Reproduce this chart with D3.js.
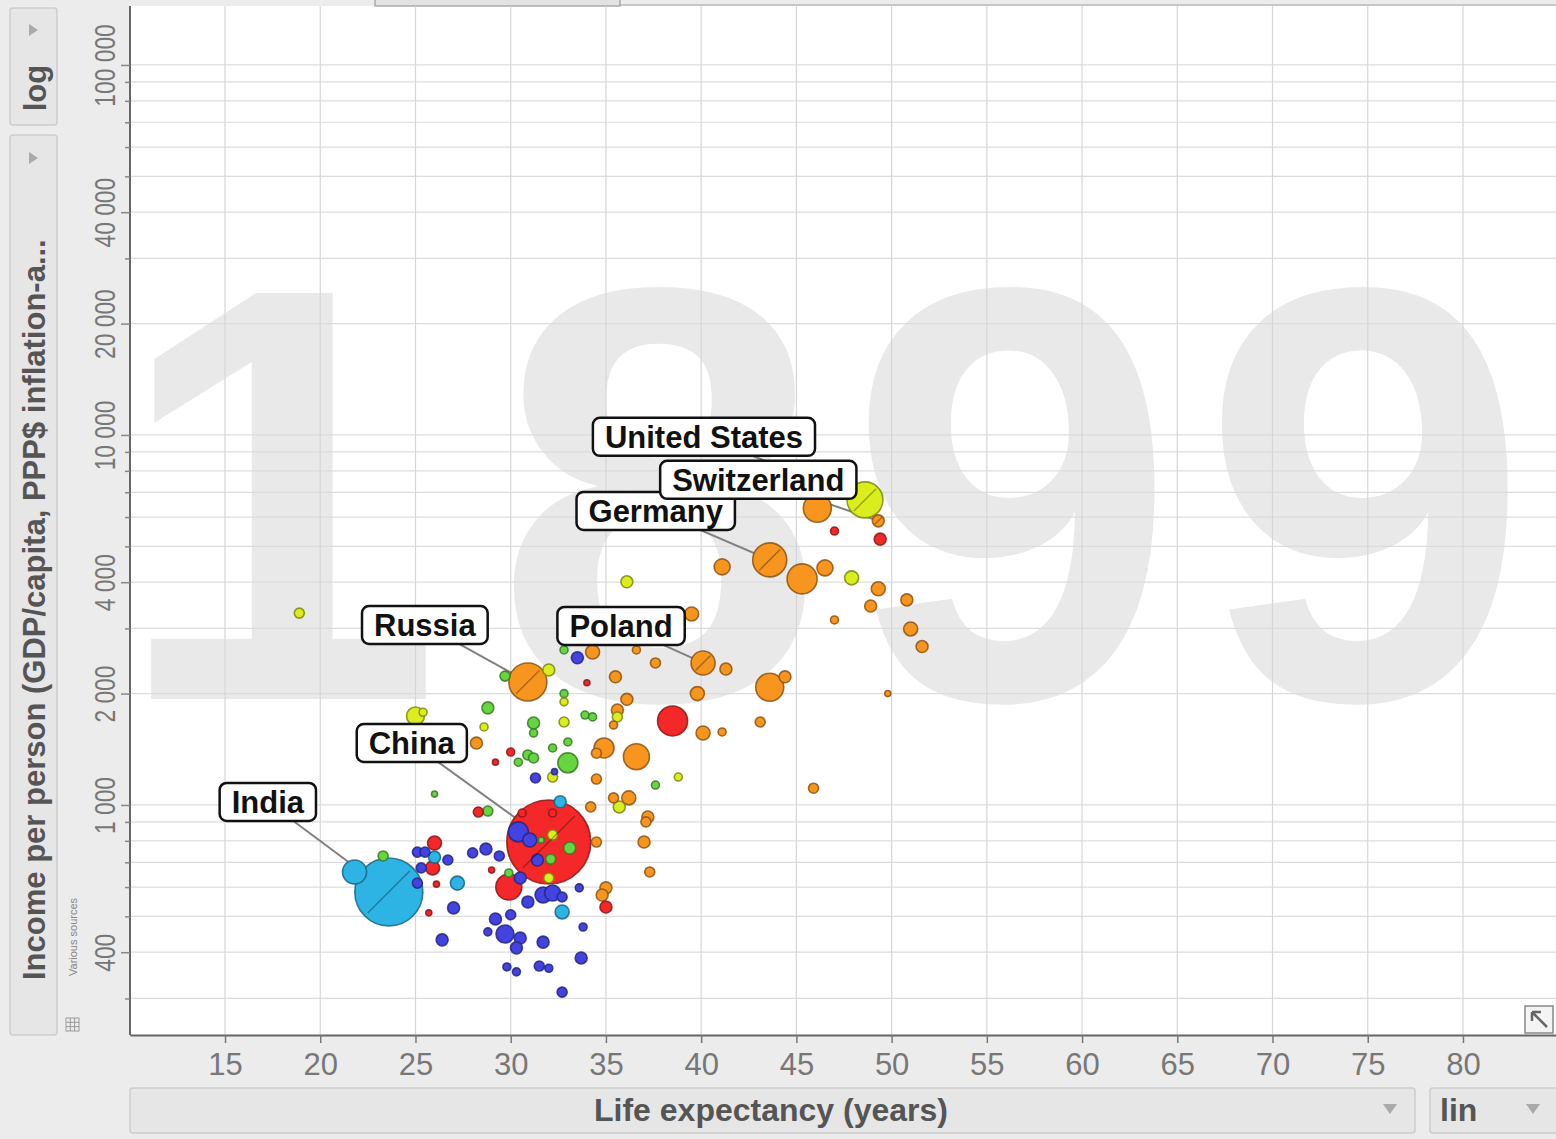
<!DOCTYPE html>
<html>
<head>
<meta charset="utf-8">
<script src="https://cdn.jsdelivr.net/npm/d3@7"></script>
<style>
  body { margin: 0; background: #ececec; }
  svg { display: block; font-family: "Liberation Sans", Arial, sans-serif; }
</style>
</head>
<body>
<script>

// ---- data ----
var year = "1899";
var xTicks = [15, 20, 25, 30, 35, 40, 45, 50, 55, 60, 65, 70, 75, 80];
var yTickLabels = [400, 1000, 2000, 4000, 10000, 20000, 40000, 100000];
var xTitle = "Life expectancy (years)";
var yTitle = "Income per person (GDP/capita, PPP$ inflation-a...";

// [life expectancy, income per person, population (millions), label]
var subSaharanAfrica = [
  [33.5, 2500, 7.4], [31.3, 1183, 5.2], [32.3, 1230, 1.9], [30.4, 846, 20.7],
  [31.0, 804, 10.1], [31.4, 710, 7.4], [30.5, 635, 7.4], [31.7, 571, 13.2],
  [32.2, 578, 13.2], [30.9, 547, 7.4], [32.7, 564, 5.2], [33.6, 597, 3.3],
  [33.8, 468, 3.3], [29.2, 492, 7.4], [30.0, 505, 5.2], [28.8, 454, 3.3],
  [29.7, 448, 16.7], [30.5, 437, 7.4], [30.3, 411, 7.4], [31.7, 426, 7.4],
  [33.7, 386, 7.4], [29.8, 365, 3.3], [30.3, 354, 3.3], [31.5, 367, 5.2],
  [32.0, 362, 3.3], [32.7, 312, 5.2], [26.4, 432, 7.4], [27.0, 527, 7.4],
  [25.1, 615, 5.2], [25.3, 676, 5.2], [26.7, 710, 5.2], [25.1, 746, 5.2],
  [25.5, 746, 5.2], [28.0, 742, 5.2], [28.7, 760, 7.4], [29.4, 728, 5.2]
];
var southAsia = [
  [23.6, 582, 239, "India"], [21.8, 659, 29.8], [26.0, 723, 7.4],
  [27.2, 615, 10.1], [32.6, 1020, 7.4], [32.7, 514, 10.1]
];
var middleEast = [
  [29.7, 2230, 5.2], [32.8, 2624, 3.3], [32.8, 2000, 3.3], [28.8, 1830, 7.4],
  [31.2, 1666, 7.4], [31.2, 1565, 3.3], [33.9, 1750, 3.3], [34.3, 1730, 3.3],
  [30.9, 1365, 5.2], [31.2, 1340, 5.2], [30.4, 1305, 3.3], [32.2, 1426, 3.3],
  [33.0, 1480, 3.3], [33.0, 1300, 20.7], [37.6, 1132, 3.3], [26.0, 1070, 1.9],
  [28.8, 963, 5.2], [33.1, 765, 7.4], [32.1, 714, 5.2], [23.3, 728, 5.2],
  [29.9, 655, 3.3], [31.6, 804, 1.9]
];
var america = [
  [48.6, 6677, 66.9, "United States"], [47.9, 4110, 10.1], [36.1, 4010, 7.4],
  [32.0, 2317, 7.4], [25.0, 1740, 16.7], [25.4, 1780, 3.3], [18.9, 3300, 5.2],
  [32.8, 1900, 3.3], [28.6, 1625, 3.3], [32.8, 1676, 5.2], [35.6, 1730, 5.2],
  [32.2, 1190, 5.2], [38.8, 1190, 3.3], [35.7, 988, 7.4], [32.2, 830, 5.2],
  [32.0, 635, 5.2]
];
var europe = [
  [46.1, 6340, 40.5], [49.3, 5860, 7.4, "Switzerland"], [43.6, 4596, 59.7, "Germany"],
  [45.3, 4083, 46.5], [46.5, 4372, 13.2], [41.1, 4400, 13.2], [49.3, 3840, 10.1],
  [50.8, 3583, 7.4], [48.9, 3450, 7.4], [51.0, 2990, 10.1], [51.6, 2680, 7.4],
  [39.5, 3283, 10.1], [40.1, 2420, 29.8, "Poland"], [41.3, 2330, 7.4],
  [43.6, 2080, 40.5], [44.4, 2220, 7.4], [39.8, 2000, 10.1], [43.1, 1676, 5.2],
  [40.1, 1565, 10.1], [41.1, 1575, 3.3], [45.9, 1110, 5.2], [49.8, 2000, 1.9],
  [47.0, 3163, 3.3], [30.9, 2150, 74.6, "Russia"], [34.3, 2590, 10.1],
  [36.6, 2624, 3.3], [37.6, 2420, 5.2], [35.5, 2220, 7.4], [36.1, 1930, 7.4],
  [35.6, 1806, 7.4], [35.4, 1645, 3.3], [34.9, 1426, 20.7], [36.6, 1350, 34.9],
  [34.5, 1380, 5.2], [34.5, 1175, 5.2], [28.2, 1470, 7.4], [36.2, 1045, 10.1],
  [35.4, 1045, 5.2], [34.2, 988, 5.2], [37.2, 928, 7.4], [37.1, 900, 5.2],
  [37.0, 794, 7.4], [34.5, 794, 5.2], [37.3, 659, 5.2], [35.0, 597, 7.4],
  [34.8, 571, 7.4]
];
var eastAsia = [
  [32.0, 794, 364, "China"], [38.5, 1687, 46.5], [47.0, 5500, 3.3], [49.4, 5230, 7.4],
  [29.9, 600, 34.9], [28.3, 957, 5.2], [26.0, 789, 10.1], [25.9, 676, 10.1],
  [35.0, 530, 7.4], [34.0, 2140, 1.9], [30.0, 1390, 3.3], [29.2, 1305, 1.9],
  [25.7, 511, 1.9], [26.1, 611, 1.9], [29.0, 667, 1.9], [32.2, 951, 3.3],
  [30.6, 951, 3.3]
];

// ---- layout / style ----
var W = 1556, H = 1139;
var plot = { left: 130, top: 6, right: 1556, bottom: 1035 };
var regionColor = {
  africa: "#4343e2", southAsia: "#2db4e4", middleEast: "#66d640",
  america: "#d9ee1c", europe: "#f7951f", eastAsia: "#f42828"
};
// label box centre, offset from its bubble
var labelOffset = {
  "United States": [-161, -63], "Switzerland": [-120, -41], "Germany": [-114, -49],
  "Russia": [-103, -57], "Poland": [-82, -37], "China": [-137, -99], "India": [-121, -90]
};

var svg = d3.select("body").append("svg")
  .attr("width", W).attr("height", H);

var xScale = d3.scaleLinear().domain([10, 85]).range([129.8, 1558.2]);
var yScale = d3.scaleLog().domain([240, 150000]).range([1034.3, -0.2]);
var rScale = d3.scaleSqrt().domain([0, 100]).range([0, 22]);

// plot background
svg.append("rect")
  .attr("x", plot.left).attr("y", plot.top)
  .attr("width", plot.right - plot.left).attr("height", plot.bottom - plot.top)
  .attr("fill", "#fff");

// top tab
svg.append("line").attr("x1", 620).attr("x2", W).attr("y1", 5).attr("y2", 5)
  .attr("stroke", "#bbb").attr("stroke-width", 1.5);
svg.append("rect").attr("x", 375).attr("y", -6).attr("width", 245).attr("height", 12)
  .attr("fill", "#e2e2e2").attr("stroke", "#aaa").attr("stroke-width", 1.5);

// big year in the background
var yr = svg.append("text")
  .attr("x", 142).attr("y", 699)
  .attr("font-size", 590).attr("font-weight", "bold")
  .attr("letter-spacing", 25)
  .attr("fill", "#e9e9e9");
yr.append("tspan").attr("dx", -28).text(year.slice(0, 1));
yr.append("tspan").attr("dx", 28).text(year.slice(1));

// grid
var yGrid = [];
[100, 1000, 10000, 100000].forEach(function(p) {
  for (var m = 1; m <= 9; m++) {
    var v = m * p;
    if (v >= 300 && v <= 100000) yGrid.push(v);
  }
});
var grid = svg.append("g");
grid.selectAll("line.h").data(yGrid).enter().append("line")
  .attr("x1", plot.left).attr("x2", plot.right)
  .attr("y1", function(d) { return yScale(d); })
  .attr("y2", function(d) { return yScale(d); })
  .attr("stroke", "#dcdcdc").attr("stroke-width", 1.2);
grid.selectAll("line.v").data(xTicks).enter().append("line")
  .attr("y1", plot.top).attr("y2", plot.bottom)
  .attr("x1", function(d) { return xScale(d); })
  .attr("x2", function(d) { return xScale(d); })
  .attr("stroke", "#d6d6d6").attr("stroke-width", 1.2);

// axes
var fmt = function(d) { return d3.format(",")(d).replace(/,/g, " "); };

var gx = svg.append("g")
  .attr("transform", "translate(0," + plot.bottom + ")")
  .call(d3.axisBottom(xScale).tickValues(xTicks).tickSize(8).tickSizeOuter(0));
gx.select(".domain").attr("stroke", "#666").attr("stroke-width", 2);
gx.selectAll(".tick line").attr("stroke", "#777").attr("stroke-width", 1.5);
gx.selectAll(".tick text")
  .attr("y", 40).attr("dy", null)
  .attr("font-size", 31).attr("font-family", "Liberation Sans, Arial, sans-serif")
  .attr("fill", "#777");

var gy = svg.append("g")
  .attr("transform", "translate(" + plot.left + ",0)")
  .call(d3.axisLeft(yScale).tickValues(yGrid).tickSizeOuter(0)
    .tickSize(5)
    .tickFormat(function(d) { return yTickLabels.indexOf(d) >= 0 ? fmt(d) : ""; }));
gy.select(".domain").attr("stroke", "#666").attr("stroke-width", 2)
  .attr("d", "M0," + plot.top + "V" + plot.bottom);
gy.selectAll(".tick line").attr("stroke", "#888").attr("stroke-width", 1.5)
  .attr("x2", function(d) { return yTickLabels.indexOf(d) >= 0 ? -9 : -5; });
gy.selectAll(".tick text")
  .attr("x", null).attr("dy", null)
  .attr("text-anchor", "middle")
  .attr("transform", "translate(-15,0) rotate(-90) scale(0.76,1)")
  .attr("font-size", 30).attr("font-family", "Liberation Sans, Arial, sans-serif")
  .attr("fill", "#777");

// ---- bubbles ----
var groups = [
  ["africa", subSaharanAfrica], ["southAsia", southAsia], ["middleEast", middleEast],
  ["america", america], ["europe", europe], ["eastAsia", eastAsia]
];
var bubbles = [];
groups.forEach(function(g) {
  g[1].forEach(function(d) {
    bubbles.push({ region: g[0], life: d[0], income: d[1], pop: d[2], name: d[3] || null });
  });
});
bubbles.sort(function(a, b) { return b.pop - a.pop; });
var labelled = bubbles.filter(function(d) { return d.name; });

// leader lines (under the bubbles)
svg.append("g").selectAll("line").data(labelled).enter().append("line")
  .attr("x1", function(d) { return xScale(d.life) + labelOffset[d.name][0]; })
  .attr("y1", function(d) { return yScale(d.income) + labelOffset[d.name][1]; })
  .attr("x2", function(d) { return xScale(d.life); })
  .attr("y2", function(d) { return yScale(d.income); })
  .attr("stroke", "#808080").attr("stroke-width", 2);

var circle = svg.append("g").selectAll("circle")
  .data(bubbles)
  .enter()
  .append("circle")
    .attr("cx", function(d) { return xScale(d.life); })
    .attr("cy", function(d) { return yScale(d.income); })
    .attr("r", function(d) { return rScale(d.pop); })
    .attr("fill", function(d) { return regionColor[d.region]; })
    .attr("stroke", function(d) { return d3.color(regionColor[d.region]).darker(1.6); })
    .attr("stroke-opacity", 0.85)
    .attr("stroke-width", 1.6);

// selection mark inside labelled bubbles
svg.append("g").selectAll("line").data(labelled).enter().append("line")
  .attr("x1", function(d) { return xScale(d.life) + rScale(d.pop) * 0.62; })
  .attr("y1", function(d) { return yScale(d.income) - rScale(d.pop) * 0.62; })
  .attr("x2", function(d) { return xScale(d.life) - rScale(d.pop) * 0.62; })
  .attr("y2", function(d) { return yScale(d.income) + rScale(d.pop) * 0.62; })
  .attr("stroke", "#000").attr("stroke-opacity", 0.3).attr("stroke-width", 1.5);

// label boxes
var lab = svg.append("g").selectAll("g").data(labelled).enter().append("g")
  .attr("transform", function(d) {
    return "translate(" + (xScale(d.life) + labelOffset[d.name][0]) + "," +
      (yScale(d.income) + labelOffset[d.name][1]) + ")";
  });
// draw in the reference's stacking order
lab.sort(function(a, b) {
  var order = ["India", "China", "Russia", "Poland", "United States", "Germany", "Switzerland"];
  return order.indexOf(a.name) - order.indexOf(b.name);
});
lab.each(function(d) {
  var g = d3.select(this);
  var rect = g.append("rect");
  var t = g.append("text")
    .attr("text-anchor", "middle").attr("y", 11)
    .attr("font-size", 31).attr("font-weight", "bold").attr("fill", "#111")
    .text(d.name);
  var w = t.node().getComputedTextLength() + 24;
  rect.attr("x", -w / 2).attr("y", -19).attr("width", w).attr("height", 38)
    .attr("rx", 7).attr("fill", "#fff").attr("stroke", "#111").attr("stroke-width", 2.5);
});

// ---- controls around the chart ----
// y title box
svg.append("rect").attr("x", 10).attr("y", 135).attr("width", 47).attr("height", 900)
  .attr("rx", 3).attr("fill", "#e6e6e6").attr("stroke", "#cdcdcd").attr("stroke-width", 1.5);
svg.append("rect").attr("x", 10).attr("y", 8).attr("width", 47).attr("height", 117)
  .attr("rx", 3).attr("fill", "#e6e6e6").attr("stroke", "#cdcdcd").attr("stroke-width", 1.5);
svg.append("text")
  .attr("transform", "translate(45,980) rotate(-90)")
  .attr("font-size", 31).attr("font-weight", "bold").attr("fill", "#555")
  .text(yTitle);
svg.append("text")
  .attr("transform", "translate(46,88) rotate(-90)")
  .attr("text-anchor", "middle")
  .attr("font-size", 31).attr("font-weight", "bold").attr("fill", "#555")
  .text("log");
[30, 158].forEach(function(y) {
  svg.append("path").attr("d", "M29," + (y - 6) + "L38," + y + "L29," + (y + 6) + "Z")
    .attr("fill", "#aaa");
});
svg.append("text")
  .attr("transform", "translate(77,976) rotate(-90)")
  .attr("font-size", 11).attr("fill", "#888")
  .text("Various sources");
var icon = svg.append("g").attr("transform", "translate(66,1018)");
icon.append("rect").attr("width", 13).attr("height", 13).attr("fill", "none").attr("stroke", "#999");
[4.3, 8.6].forEach(function(v) {
  icon.append("line").attr("x1", v).attr("x2", v).attr("y1", 0).attr("y2", 13).attr("stroke", "#999");
  icon.append("line").attr("y1", v).attr("y2", v).attr("x1", 0).attr("x2", 13).attr("stroke", "#999");
});

// x title box
svg.append("rect").attr("x", 130).attr("y", 1088).attr("width", 1285).attr("height", 45)
  .attr("rx", 3).attr("fill", "#e6e6e6").attr("stroke", "#cdcdcd").attr("stroke-width", 1.5);
svg.append("text")
  .attr("x", 771).attr("y", 1121).attr("text-anchor", "middle")
  .attr("font-size", 32).attr("font-weight", "bold").attr("fill", "#555")
  .text(xTitle);
svg.append("rect").attr("x", 1430).attr("y", 1088).attr("width", 140).attr("height", 45)
  .attr("rx", 3).attr("fill", "#e6e6e6").attr("stroke", "#cdcdcd").attr("stroke-width", 1.5);
svg.append("text")
  .attr("x", 1440).attr("y", 1121)
  .attr("font-size", 32).attr("font-weight", "bold").attr("fill", "#555")
  .text("lin");
[1390, 1533].forEach(function(x) {
  svg.append("path").attr("d", "M" + (x - 7) + ",1104L" + (x + 7) + ",1104L" + x + ",1114Z")
    .attr("fill", "#aaa");
});

// corner arrow icon
var arr = svg.append("g").attr("transform", "translate(1525,1006)");
arr.append("rect").attr("width", 28).attr("height", 27).attr("fill", "#f4f4f4")
  .attr("stroke", "#888").attr("stroke-width", 1.5);
arr.append("path").attr("d", "M7,6L7,15M7,6L16,6M7,6L22,21")
  .attr("stroke", "#666").attr("stroke-width", 2.5).attr("fill", "none");

</script>
</body>
</html>
